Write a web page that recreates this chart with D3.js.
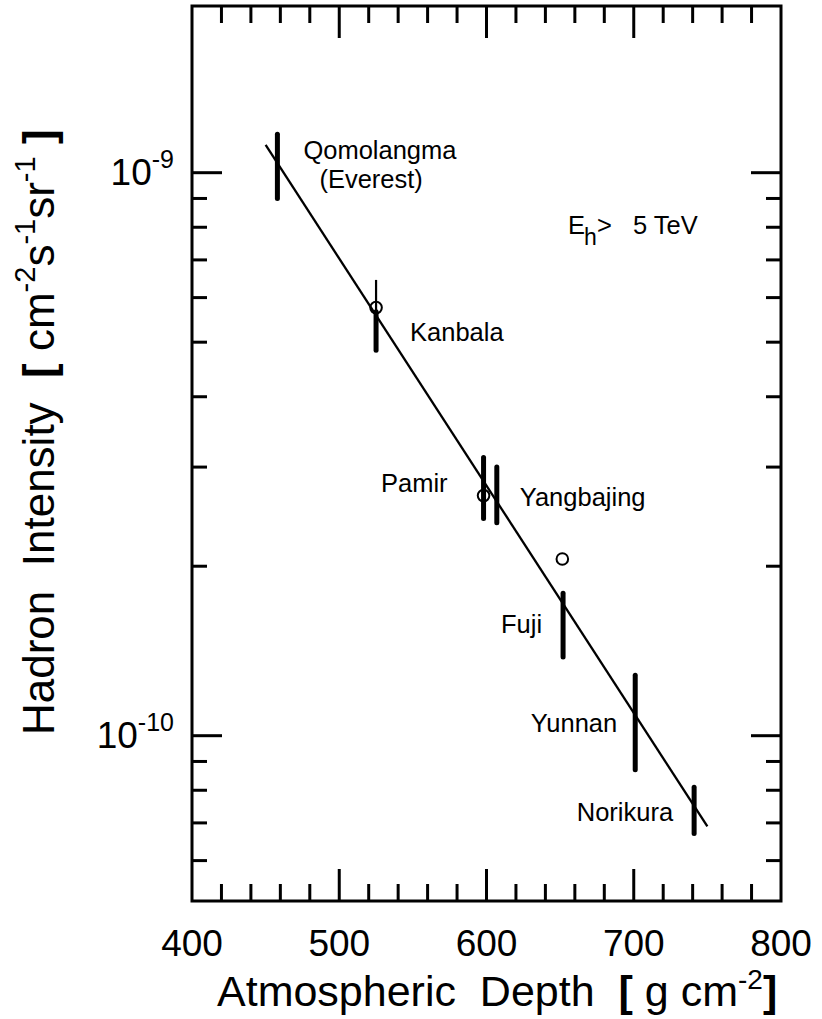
<!DOCTYPE html>
<html>
<head>
<meta charset="utf-8">
<script src="https://cdn.jsdelivr.net/npm/d3@7"></script>
<style>
  html, body { margin: 0; padding: 0; background: #fff; }
  svg { display: block; }
  text { font-family: "Liberation Sans", Arial, Helvetica, sans-serif; fill: #000; }
</style>
</head>
<body>
<svg id="chart" width="822" height="1019"></svg>
<script>
// ---- data -------------------------------------------------------------
// Mountain sites: atmospheric depth [g cm^-2] and intensity range (thick bars)
const sites    = ["Qomolangma", "Kanbala", "Pamir", "Yangbajing", "Fuji", "Yunnan", "Norikura"];
const barDepth = [458, 525, 598, 607, 652, 701, 741];
const barHigh  = [1.17e-9, 5.66e-10, 3.12e-10, 3.00e-10, 1.79e-10, 1.28e-10, 8.1e-11];
const barLow   = [9.0e-10, 4.84e-10, 2.43e-10, 2.39e-10, 1.38e-10, 8.7e-11, 6.7e-11];

// Open-circle measurements (with a thin error bar where given)
const circleSite  = ["Kanbala", "Pamir", "Fuji"];
const circleDepth = [525, 598, 651.5];
const circleValue = [5.76e-10, 2.67e-10, 2.06e-10];
const circleHigh  = [6.45e-10, null, null];
const circleLow   = [4.84e-10, null, null];

// Exponential attenuation fit (straight line on the log axis)
const fitDepth = [450, 750];
const fitValue = [1.12e-9, 6.9e-11];

// Axis ticks
const xMajorTicks  = [400, 500, 600, 700, 800];
const xMinorTicks  = [420, 440, 460, 480, 520, 540, 560, 580, 620, 640, 660, 680, 720, 740, 760, 780];
const xTickLabels  = ["400", "500", "600", "700", "800"];
const yMajorTicks  = [1e-9, 1e-10];
const yMinorTicks  = [9e-10, 8e-10, 7e-10, 6e-10, 5e-10, 4e-10, 3e-10, 2e-10, 9e-11, 8e-11, 7e-11, 6e-11];
const yTickExps    = ["-9", "-10"];

// ---- layout -----------------------------------------------------------
const frame = { left: 192, right: 781, top: 6, bottom: 901 };
const AXIS_W = 3;

const x = d3.scaleLinear().domain([400, 800]).range([frame.left, frame.right]);
const y = d3.scaleLog().domain([1e-10, 1e-9]).range([735.7, 172.7]);

// label placement relative to each site's bar (pixels)
const labelLayout = {
  "Qomolangma": { anchor: "start", dx: 26, dy: -7.5 },
  "Kanbala":    { anchor: "start", dx: 34, dy: 10 },
  "Pamir":      { anchor: "end",   dx: -36, dy: 4 },
  "Yangbajing": { anchor: "start", dx: 23, dy: 11.5 },
  "Fuji":       { anchor: "end",   dx: -21, dy: 8 },
  "Yunnan":     { anchor: "end",   dx: -18, dy: 9 },
  "Norikura":   { anchor: "end",   dx: -21, dy: 11 }
};

const svg = d3.select("#chart");
svg.append("rect").attr("width", 822).attr("height", 1019).attr("fill", "#fff");

// ---- frame and ticks ----------------------------------------------------
const axes = svg.append("g").attr("stroke", "#000").attr("stroke-width", AXIS_W).attr("fill", "none");

axes.append("rect")
  .attr("x", frame.left).attr("y", frame.top)
  .attr("width", frame.right - frame.left).attr("height", frame.bottom - frame.top);

function xTicks(values, len) {
  values.forEach(v => {
    const px = x(v);
    axes.append("line").attr("x1", px).attr("x2", px).attr("y1", frame.bottom).attr("y2", frame.bottom - len);
    axes.append("line").attr("x1", px).attr("x2", px).attr("y1", frame.top).attr("y2", frame.top + len);
  });
}
function yTicks(values, len) {
  values.forEach(v => {
    const py = y(v);
    axes.append("line").attr("y1", py).attr("y2", py).attr("x1", frame.left).attr("x2", frame.left + len);
    axes.append("line").attr("y1", py).attr("y2", py).attr("x1", frame.right).attr("x2", frame.right - len);
  });
}
xTicks(xMajorTicks.filter(v => v > 400 && v < 800), 32);
xTicks(xMinorTicks, 17);
yTicks(yMajorTicks, 30);
yTicks(yMinorTicks, 15);

// x tick labels
svg.append("g").selectAll("text").data(xMajorTicks).join("text")
  .attr("x", d => x(d)).attr("y", 956)
  .attr("text-anchor", "middle").attr("font-size", 37)
  .text((d, i) => xTickLabels[i]);

// y tick labels: 10 with superscript exponent
yMajorTicks.forEach((v, i) => {
  const t = svg.append("text")
    .attr("x", 174).attr("y", y(v) + 12)
    .attr("text-anchor", "end").attr("font-size", 37);
  t.append("tspan").text("10");
  t.append("tspan").attr("font-size", 25).attr("dy", -17).text(yTickExps[i]);
});

// ---- axis titles -------------------------------------------------------
const xt = svg.append("text").attr("x", 217).attr("y", 1006).attr("font-size", 43);
xt.append("tspan").text("Atmospheric\u00a0\u00a0Depth\u00a0\u00a0");
xt.append("tspan").attr("font-weight", "bold").text("[");
xt.append("tspan").text("\u00a0g\u00a0cm");
xt.append("tspan").attr("font-size", 28).attr("dy", -17).text("-2");
xt.append("tspan").attr("dy", 17).attr("font-weight", "bold").text("]");

const yt = svg.append("text").attr("transform", "translate(54,735) rotate(-90)")
  .attr("x", 0).attr("y", 0).attr("font-size", 44);
yt.append("tspan").text("Hadron\u00a0\u00a0Intensity\u00a0\u00a0");
yt.append("tspan").attr("font-weight", "bold").text("[");
yt.append("tspan").text("\u00a0cm");
yt.append("tspan").attr("font-size", 29).attr("dy", -19).text("-2");
yt.append("tspan").attr("dy", 19).text("s");
yt.append("tspan").attr("font-size", 29).attr("dy", -19).text("-1");
yt.append("tspan").attr("dy", 19).text("sr");
yt.append("tspan").attr("font-size", 29).attr("dy", -19).text("-1");
yt.append("tspan").attr("dy", 19).text("\u00a0");
yt.append("tspan").attr("font-weight", "bold").text("]");

// ---- fit line ----------------------------------------------------------
const fitPts = fitDepth.map((d, i) => [d, fitValue[i]]);
svg.append("path")
  .attr("d", d3.line().x(d => x(d[0])).y(d => y(d[1]))(fitPts))
  .attr("stroke", "#000").attr("stroke-width", 2.3).attr("fill", "none");

// ---- thin error bars and open circles ---------------------------------
circleDepth.forEach((d, i) => {
  if (circleHigh[i] != null) {
    svg.append("line")
      .attr("x1", x(d)).attr("x2", x(d))
      .attr("y1", y(circleHigh[i])).attr("y2", y(circleLow[i]))
      .attr("stroke", "#000").attr("stroke-width", 2.2);
  }
});

// ---- thick bars --------------------------------------------------------
svg.append("g").selectAll("line").data(sites).join("line")
  .attr("x1", (d, i) => x(barDepth[i])).attr("x2", (d, i) => x(barDepth[i]))
  .attr("y1", (d, i) => y(barHigh[i])).attr("y2", (d, i) => y(barLow[i]))
  .attr("stroke", "#000").attr("stroke-width", 5).attr("stroke-linecap", "round");

svg.append("g").selectAll("circle").data(circleSite).join("circle")
  .attr("cx", (d, i) => x(circleDepth[i])).attr("cy", (d, i) => y(circleValue[i]))
  .attr("r", 5.8).attr("fill", "none").attr("stroke", "#000").attr("stroke-width", 2);

// ---- site labels -------------------------------------------------------
sites.forEach((s, i) => {
  const L = labelLayout[s];
  const bx = x(barDepth[i]);
  const by = (y(barHigh[i]) + y(barLow[i])) / 2;
  svg.append("text")
    .attr("x", bx + L.dx).attr("y", by + L.dy)
    .attr("text-anchor", L.anchor).attr("font-size", 25.5)
    .text(s);
  if (s === "Qomolangma") {
    svg.append("text")
      .attr("x", bx + 42).attr("y", by + 21.5)
      .attr("font-size", 25.5).text("(Everest)");
  }
});

// ---- energy threshold note --------------------------------------------
const note = svg.append("text").attr("y", 234).attr("font-size", 25.5);
note.append("tspan").attr("x", 568).text("E");
note.append("tspan").attr("x", 584).attr("y", 245).attr("font-size", 23).text("h");
note.append("tspan").attr("x", 597).attr("y", 234).text(">");
note.append("tspan").attr("x", 633).attr("y", 234).text("5 TeV");
</script>
</body>
</html>
